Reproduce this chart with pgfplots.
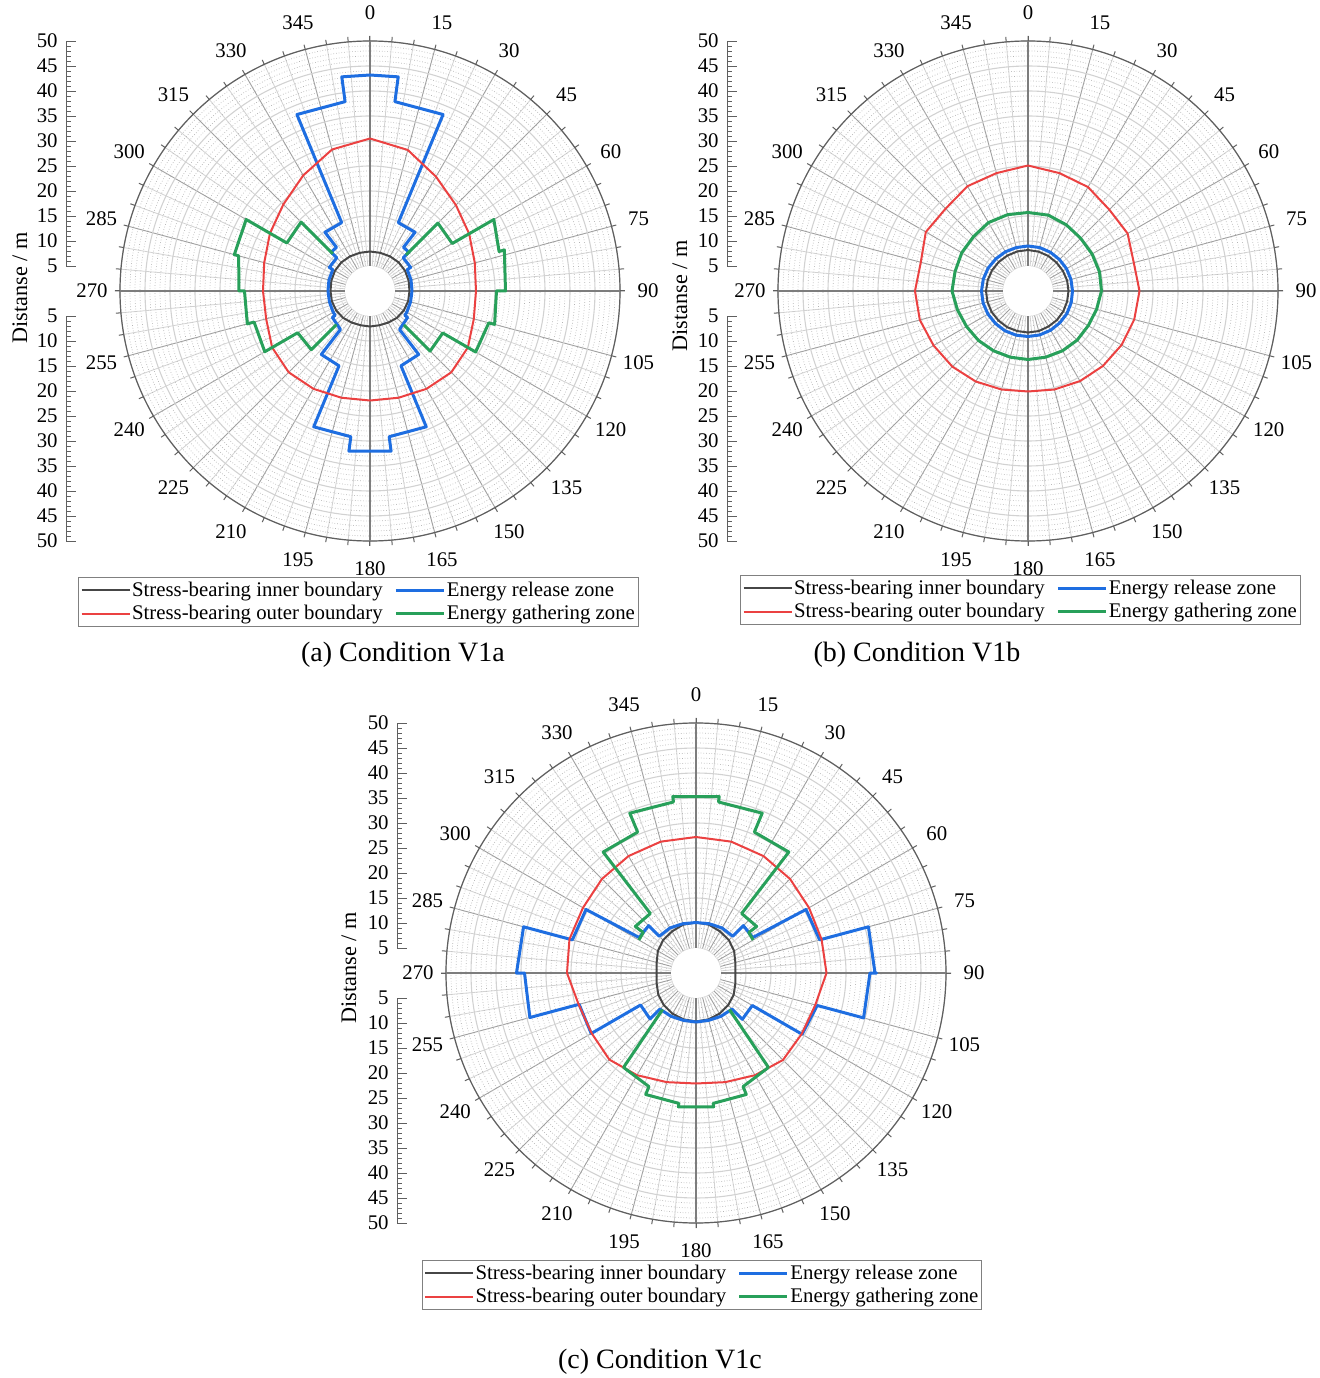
\documentclass[border=0pt]{standalone}
\usepackage{fontspec}
\setmainfont{Liberation Serif}
\usepackage{pgfplots}
\pgfplotsset{compat=1.18}
\usepgfplotslibrary{polar}
\usetikzlibrary{calc}

\definecolor{cblue}{RGB}{30,110,225}
\definecolor{cred}{RGB}{235,65,65}
\definecolor{cgreen}{RGB}{40,160,90}
\definecolor{cblack}{RGB}{70,70,70}
\definecolor{gmaj}{RGB}{160,160,160}
\definecolor{gmin}{RGB}{210,210,210}
\definecolor{gdot}{RGB}{180,180,180}
\definecolor{gaxis}{RGB}{95,95,95}
\definecolor{gcross}{RGB}{125,125,125}

\newcommand\tfont{\fontsize{10.4}{12}\selectfont}

\pgfplotsset{
  mypolar/.style={
    scale only axis, width=250pt, height=250pt, anchor=center,
    xmin=0, xmax=360, ymin=0, ymax=50,
    x filter/.expression={mod(450-x,360)},
    xtick={0,15,...,345}, minor x tick num=2, xticklabels={},
    ytick={5,10,...,50}, minor y tick num=4, yticklabels={},
    grid=both,
    major x grid style={gmaj, line width=0.45pt},
    minor x grid style={gmin, line width=0.4pt},
    major y grid style={gmin, line width=0.55pt},
    minor y grid style={gdot, line width=0.35pt, densely dotted},
    extra x ticks={0,90,180,270}, extra x tick labels={},
    extra x tick style={major x grid style={gcross, line width=0.55pt}},
    axis line style={gaxis, line width=0.6pt},
    tick align=inside,
    major tick length=2.5pt, minor tick length=2.5pt,
    xtick style={gaxis, line width=0.5pt},
    ytick style={draw=none},
    clip=false,
    legend columns=2,
    legend cell align=left,
    legend image code/.code={\draw[##1] (0pt,0pt) -- (24pt,0pt);},
    legend style={draw=gray, line width=0.5pt, font=\tfont, anchor=center,
      inner xsep=1pt, inner ysep=1pt,
      nodes={inner xsep=0.8pt, inner ysep=1.2pt},
      /tikz/every even column/.append style={column sep=5pt},
      row sep=0.5pt},
  },
  ruler/.style={
    scale only axis, width=1pt, height=112.5pt,
    axis x line=none, axis y line*=left, xmin=0, xmax=1,
    minor y tick num=4, tick align=inside,
    major tick length=5pt, minor tick length=2.5pt,
    axis line style={gaxis, line width=0.5pt},
    ytick style={gaxis, line width=0.45pt},
    yticklabel style={font=\tfont, inner sep=1.5pt, xshift=-2.5pt},
  },
  rulerup/.style={ruler, ymin=5, ymax=50, ytick={5,10,...,50},
    yticklabels={5,10,15,20,25,30,35,40,45,50}, anchor=south west},
  rulerdn/.style={ruler, ymin=-50, ymax=-5, ytick={-50,-45,...,-5},
    yticklabels={50,45,40,35,30,25,20,15,10,5}, anchor=north west},
  lk/.style={cblack, line width=1pt, line join=round},
  lb/.style={cblue, line width=1.5pt, line join=round},
  lr/.style={cred, line width=1pt, line join=round},
  lg/.style={cgreen, line width=1.5pt, line join=round},
}

\begin{document}
\begin{tikzpicture}[x=0.5pt,y=0.5pt]
\useasboundingbox (0,0) rectangle (1320,1378);
\coordinate (ca) at (370,1087);
\coordinate (cb) at (1028,1087);
\coordinate (cc) at (696,405);
\coordinate (rau) at (66,1112);
\coordinate (rad) at (66,1062);
\coordinate (rbu) at (727,1112);
\coordinate (rbd) at (727,1062);
\coordinate (rcu) at (397,430);
\coordinate (rcd) at (397,380);

% ---------------- (a) ----------------
\begin{polaraxis}[mypolar, at={(ca)},
  legend style={at={(0.477,-0.122)}}]
\fill[white] (axis cs:0,0) circle[radius=12.5pt];
\addplot[lk] coordinates {(0,7.9)(15,7.9)(30,8.0)(45,8.1)(60,8.1)(75,8.0)(90,7.9)(105,7.9)(120,7.8)(135,7.6)(150,7.3)(165,7.1)(180,7.1)(195,7.1)(210,7.3)(225,7.6)(240,7.8)(255,7.9)(270,7.9)(285,8.0)(300,8.1)(315,8.1)(330,8.0)(345,7.9)(360,7.9)};
\addlegendentry{Stress-bearing inner boundary}
\addplot[lb] coordinates {(0,43.2)(7.5,43.2)(7.5,38.2)(22.5,38.2)(22.5,14.8)(37.5,14.8)(37.5,11.0)(45,11.0)(45,9.4)(60,9.4)(60,8.6)(75,8.5)(90,8.4)(105,8.4)(120,8.5)(125,8.5)(125,9.2)(142.5,9.7)(142.5,16.0)(157.5,16.2)(157.5,29.4)(172.5,29.4)(172.5,32.3)(187.5,32.3)(187.5,29.4)(202.5,29.4)(202.5,16.2)(217.5,16.0)(217.5,9.7)(235,9.2)(235,8.5)(240,8.5)(255,8.4)(270,8.4)(285,8.5)(300,8.6)(300,9.4)(315,9.4)(315,11.0)(322.5,11.0)(322.5,14.8)(337.5,14.8)(337.5,38.2)(352.5,38.2)(352.5,43.2)(360,43.2)};
\addlegendentry{Energy release zone}
\addplot[lr] coordinates {(0,30.5)(15,29.2)(30,26.4)(45,24.3)(60,22.9)(75,21.7)(90,21.2)(105,21.5)(120,22.6)(135,23.0)(150,22.6)(165,22.1)(180,21.9)(195,22.1)(210,22.6)(225,23.0)(240,22.6)(255,21.5)(270,21.4)(285,21.9)(300,23.1)(315,24.5)(330,26.7)(345,29.3)(360,30.5)};
\addlegendentry{Stress-bearing outer boundary}
\addplot[lg] coordinates {(45,10.2)(45,19.2)(60,19.0)(60,28.6)(73,27.0)(73,28.1)(90,27.1)(90,25.3)(105,25.8)(105,24.6)(120,24.4)(120,16.8)(135,17.0)(135,9.6)};
\addlegendentry{Energy gathering zone}
\addplot[lg, forget plot] coordinates {(225,9.5)(225,16.6)(240,16.7)(240,24.3)(255,24.0)(255,25.4)(270,25.1)(270,26.2)(285,27.2)(285,28.1)(300,28.6)(300,19.2)(315,19.5)(315,10.5)};
\end{polaraxis}
\begin{axis}[rulerup, at={(rau)}]\end{axis}
\begin{axis}[rulerdn, at={(rad)}]\end{axis}
\node[rotate=90, font=\fontsize{11.1}{13}\selectfont] at (20,1090) {Distanse / m};
\node[font=\fontsize{14}{16}\selectfont] at (403,723) {(a) Condition V1a};

% ---------------- (b) ----------------
\begin{polaraxis}[mypolar, at={(cb)},
  legend style={at={(0.485,-0.118)}}]
\fill[white] (axis cs:0,0) circle[radius=12.5pt];
\addplot[lk] coordinates {(0,8.2)(15,8.15)(30,8.1)(45,8.05)(60,8.05)(75,8.1)(90,8.1)(105,8.1)(120,8.15)(135,8.2)(150,8.2)(165,8.3)(180,8.3)(195,8.3)(210,8.35)(225,8.35)(240,8.4)(255,8.4)(270,8.4)(285,8.35)(300,8.3)(315,8.25)(330,8.2)(345,8.2)(360,8.2)};
\addlegendentry{Stress-bearing inner boundary}
\addplot[lb] coordinates {(0,9.0)(15,9.0)(30,8.95)(45,8.9)(60,8.9)(75,8.9)(90,8.9)(105,8.95)(120,9.0)(135,9.0)(150,9.05)(165,9.1)(180,9.1)(195,9.15)(210,9.2)(225,9.2)(240,9.25)(255,9.3)(270,9.3)(285,9.25)(300,9.2)(315,9.1)(330,9.05)(345,9.0)(360,9.0)};
\addlegendentry{Energy release zone}
\addplot[lr] coordinates {(0,25.1)(15,24.4)(30,24.0)(45,23.0)(60,23.0)(75,21.9)(90,22.3)(105,22.0)(120,21.6)(135,21.2)(150,20.8)(165,20.4)(180,20.1)(195,20.4)(210,20.9)(225,21.4)(240,21.8)(255,22.4)(270,22.6)(285,22.2)(300,23.6)(315,23.3)(330,24.2)(345,24.4)(360,25.1)};
\addlegendentry{Stress-bearing outer boundary}
\addplot[lg] coordinates {(0,15.7)(15,15.7)(30,15.3)(45,14.9)(60,14.8)(75,14.8)(90,14.7)(105,14.2)(120,13.9)(135,13.9)(150,13.8)(165,13.7)(180,13.7)(195,13.7)(210,13.8)(225,14.0)(240,14.2)(255,14.6)(270,15.2)(285,15.1)(300,15.3)(315,15.4)(330,15.8)(345,15.8)(360,15.7)};
\addlegendentry{Energy gathering zone}
\end{polaraxis}
\begin{axis}[rulerup, at={(rbu)}]\end{axis}
\begin{axis}[rulerdn, at={(rbd)}]\end{axis}
\node[rotate=90, font=\fontsize{11.1}{13}\selectfont] at (680,1082) {Distanse / m};
\node[font=\fontsize{14}{16}\selectfont] at (917,723) {(b) Condition V1b};

% ---------------- (c) ----------------
\begin{polaraxis}[mypolar, at={(cc)},
  legend style={at={(0.512,-0.124)}}]
\fill[white] (axis cs:0,0) circle[radius=12.5pt];
\addplot[lk] coordinates {(0,10.1)(15,10.0)(30,9.6)(45,9.3)(60,8.8)(75,8.15)(90,7.9)(105,8.15)(120,8.7)(135,9.1)(150,9.4)(165,9.6)(180,9.7)(195,9.6)(210,9.4)(225,9.1)(240,8.7)(255,8.15)(270,7.9)(285,8.15)(300,8.8)(315,9.3)(330,9.6)(345,10.0)(360,10.1)};
\addlegendentry{Stress-bearing inner boundary}
\addplot[lb] coordinates {(0,10.1)(15,10.2)(30,10.4)(45,10.4)(45,13.4)(58,13.4)(60,25.4)(75,25.6)(75,35.7)(90,35.8)(90,36.1)(90,34.8)(105,34.7)(105,25.1)(120,24.5)(120,13.0)(135,13.1)(135,10.2)(150,10.0)(165,9.8)(180,9.8)(195,9.8)(210,10.0)(225,10.2)(225,13.0)(240,12.8)(240,24.2)(255,24.2)(255,34.4)(270,34.3)(270,35.9)(285,35.7)(285,25.6)(300,25.4)(302,13.4)(315,13.4)(315,10.4)(330,10.4)(345,10.2)(360,10.1)};
\addlegendentry{Energy release zone}
\addplot[lr] coordinates {(0,27.2)(15,27.2)(30,27.0)(45,26.6)(60,26.1)(75,26.0)(90,26.1)(105,24.7)(120,24.4)(135,24.6)(150,23.6)(165,22.6)(180,22.1)(195,22.6)(210,23.6)(225,24.5)(240,24.1)(255,24.3)(270,25.8)(285,26.2)(300,26.1)(315,26.6)(330,27.0)(345,27.2)(360,27.2)};
\addlegendentry{Stress-bearing outer boundary}
\addplot[lg] coordinates {(300,13.2)(307.5,13.3)(307.5,15.3)(322.5,15.0)(322.5,30.5)(337.5,30.5)(337.5,34.6)(352.5,34.5)(352.5,35.6)(367.5,35.6)(367.5,34.5)(382.5,34.6)(382.5,30.5)(397.5,30.5)(397.5,15.0)(412.5,15.3)(412.5,13.3)(420,13.2)};
\addlegendentry{Energy gathering zone}
\addplot[lg, forget plot] coordinates {(137.5,9.9)(142.5,23.8)(157.5,24.6)(157.5,26.3)(172.5,26.3)(172.5,27.0)(187.5,27.0)(187.5,26.3)(202.5,26.3)(202.5,24.6)(217.5,23.8)(222.5,9.9)};
\end{polaraxis}
\begin{axis}[rulerup, at={(rcu)}]\end{axis}
\begin{axis}[rulerdn, at={(rcd)}]\end{axis}
\node[rotate=90, font=\fontsize{11.1}{13}\selectfont] at (349,410) {Distanse / m};
\node[font=\fontsize{14}{16}\selectfont] at (660,16) {(c) Condition V1c};

% angle labels
\foreach \c in {ca,cb,cc}{
  \foreach \a in {0,15,...,345}{
    \node[font=\tfont, inner sep=0pt] at ($(\c)+({90-\a}:139pt)$) {\a};
  }
}
\end{tikzpicture}
\end{document}
